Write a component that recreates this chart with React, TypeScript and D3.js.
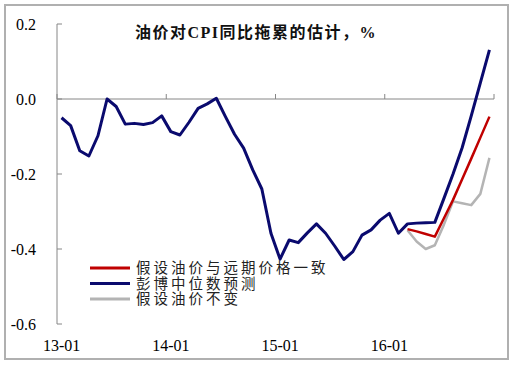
import React from 'react';
import * as d3 from 'd3';

// months 2013-01 .. 2016-12
const months = d3.range(48).map(i => {
  const y = 13 + Math.floor(i / 12);
  const m = (i % 12) + 1;
  return `${y}-${m < 10 ? '0' + m : m}`;
});

const yearLabels = ['13-01', '14-01', '15-01', '16-01'];
const yTicks = [0.2, 0.0, -0.2, -0.4, -0.6];

// 彭博中位数预测 (all months)
const bloomberg = [
  -0.05, -0.071, -0.138, -0.152, -0.098, 0.0, -0.02, -0.067, -0.065, -0.068, -0.063, -0.045,
  -0.087, -0.096, -0.062, -0.025, -0.013, 0.002, -0.047, -0.094, -0.131, -0.189, -0.24, -0.358,
  -0.427, -0.376, -0.383, -0.357, -0.333, -0.358, -0.392, -0.428, -0.407, -0.363, -0.349, -0.323,
  -0.305, -0.358, -0.333, -0.331, -0.33, -0.329, -0.265, -0.2, -0.13, -0.045, 0.043, 0.131,
];

// scenarios start at 16-03
const scenarioStart = 38;
const forwardPrice = [-0.347, -0.353, -0.36, -0.367, -0.318, -0.269, -0.214, -0.159, -0.103, -0.047];
const flatPrice = [-0.35, -0.38, -0.4, -0.39, -0.335, -0.273, -0.278, -0.283, -0.253, -0.157];

const legendItems = [
  { name: '假设油价与远期价格一致', color: '#c00000' },
  { name: '彭博中位数预测', color: '#0a0a6e' },
  { name: '假设油价不变', color: '#b4b4b4' },
];

const W = 516;
const H = 369;
const axisColor = '#868686';
const serif = '"Liberation Serif", "Times New Roman", serif';
const cjk = '"Liberation Serif", "Noto Sans CJK SC", serif';

export default function App() {
  const x = d3.scaleBand<string>().domain(months).range([57, 494]).padding(0);
  const y = d3.scaleLinear().domain([-0.6, 0.2]).range([324, 24]);
  const cx = (i: number) => (x(months[i]) as number) + x.bandwidth() / 2;

  const line = d3.line<[number, number]>()
    .x(d => cx(d[0]))
    .y(d => y(d[1]));

  const blueData: [number, number][] = bloomberg.map((v, i) => [i, v]);
  const redData: [number, number][] = forwardPrice.map((v, i) => [i + scenarioStart, v]);
  const grayData: [number, number][] = flatPrice.map((v, i) => [i + scenarioStart, v]);

  const xTickPos = d3.range(0, 49, 12).map(i => (i < 48 ? (x(months[i]) as number) : 494));
  const y0 = y(0);

  return (
    <svg width={W} height={H} style={{ position: 'absolute', left: 0, top: 0, background: 'white' }}>
      <rect x={5} y={5} width={503} height={354} fill="white" stroke="#b0b0b0" strokeWidth={2} />

      {/* title */}
      <text x={256} y={38} textAnchor="middle" fontFamily={cjk} fontWeight="bold" fontSize={16}
        letterSpacing={1.5} fill="#111">
        油价对CPI同比拖累的估计，%
      </text>

      {/* y axis */}
      <line x1={57} x2={57} y1={y(0.2)} y2={y(-0.6)} stroke={axisColor} strokeWidth={1} />
      {yTicks.map(t => (
        <g key={t}>
          <line x1={57} x2={62} y1={y(t)} y2={y(t)} stroke={axisColor} />
          <text x={36} y={y(t)} dy="0.35em" textAnchor="end" fontFamily={serif} fontSize={16} fill="#000">
            {t.toFixed(1)}
          </text>
        </g>
      ))}

      {/* x axis at zero */}
      <line x1={57} x2={494} y1={y0} y2={y0} stroke={axisColor} strokeWidth={1} />
      {xTickPos.map((p, i) => (
        <line key={i} x1={p} x2={p} y1={y0} y2={y0 - 5} stroke={axisColor} />
      ))}
      {yearLabels.map((lab, i) => (
        <text key={lab} x={cx(i * 12)} y={351} textAnchor="middle" fontFamily={serif} fontSize={16} fill="#000">
          {lab}
        </text>
      ))}

      {/* series */}
      <path d={line(grayData) || ''} fill="none" stroke={legendItems[2].color} strokeWidth={2.5} strokeLinejoin="round" />
      <path d={line(redData) || ''} fill="none" stroke={legendItems[0].color} strokeWidth={2.5} strokeLinejoin="round" />
      <path d={line(blueData) || ''} fill="none" stroke={legendItems[1].color} strokeWidth={3} strokeLinejoin="round" />

      {/* legend */}
      {legendItems.map((item, i) => {
        const ly = 268 + i * 15.5;
        return (
          <g key={item.name}>
            <line x1={90} x2={130} y1={ly} y2={ly} stroke={item.color} strokeWidth={3} />
            <text x={136} y={ly} dy="0.36em" fontFamily={cjk} fontSize={14.5} letterSpacing={3} fill="#222">
              {item.name}
            </text>
          </g>
        );
      })}
    </svg>
  );
}
